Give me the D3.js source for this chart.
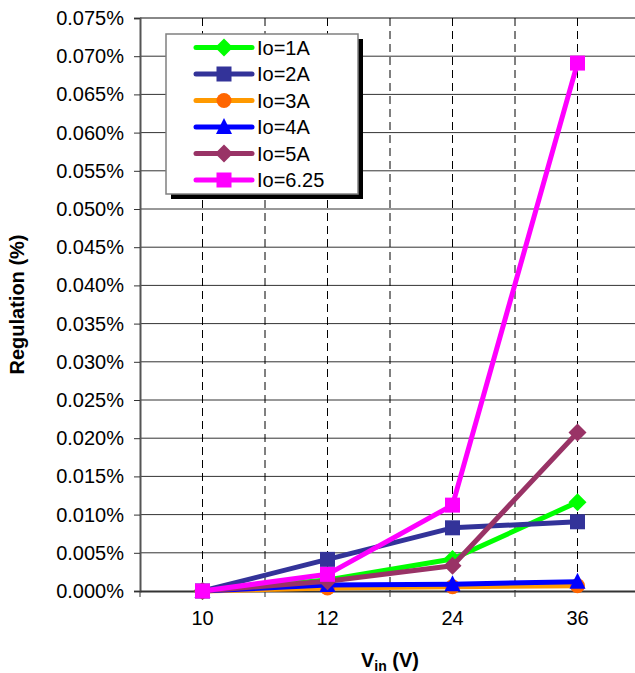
<!DOCTYPE html>
<html><head><meta charset="utf-8">
<script src="https://cdn.jsdelivr.net/npm/d3@7"></script>
<style>body{margin:0;background:#fff}</style>
</head><body>
<svg id="c" width="635" height="673"></svg>
<script>
const categories = ["10", "12", "24", "36"];
const yTicks = [0, 0.005, 0.01, 0.015, 0.02, 0.025, 0.03, 0.035, 0.04, 0.045, 0.05, 0.055, 0.06, 0.065, 0.07, 0.075];
const seriesNames = ["Io=1A", "Io=2A", "Io=3A", "Io=4A", "Io=5A", "Io=6.25"];
const io1 = [0, 0.00144, 0.00418, 0.01163];
const io2 = [0, 0.00414, 0.00827, 0.00906];
const io3 = [0, 0.0004, 0.00056, 0.00069];
const io4 = [0, 0.00078, 0.00088, 0.00122];
const io5 = [0, 0.00127, 0.0033, 0.02074];
const io625 = [0, 0.00218, 0.01124, 0.0691];

const styles = [
  {line:"#00FF00", fill:"#00FF00", shape:"diamond"},
  {line:"#333399", fill:"#333399", shape:"square"},
  {line:"#FF9900", fill:"#FF6600", shape:"circle"},
  {line:"#0000FF", fill:"#0000FF", shape:"triangle"},
  {line:"#993366", fill:"#993366", shape:"diamond"},
  {line:"#FF00FF", fill:"#FF00FF", shape:"square"}
];
const seriesData = [io1, io2, io3, io4, io5, io625];

const svg = d3.select("#c");
const L = 140, R = 640, T = 18, B = 591;
const x = d3.scaleBand().domain(categories).range([L, R]);
const y = d3.scaleLinear().domain([0, 0.075]).range([B, T]);
const font = "Liberation Sans, Arial, sans-serif";

// horizontal gridlines
svg.append("g").selectAll("line").data(yTicks.slice(1)).join("line")
  .attr("x1", L).attr("x2", R).attr("y1", d => y(d)).attr("y2", d => y(d))
  .attr("stroke", d => d === 0.075 ? "#888" : "#333").attr("stroke-width", d => d === 0.075 ? 2 : 1);

// vertical dashed gridlines at centers and boundaries
const vLines = [];
categories.forEach((c, i) => { vLines.push(x(c) + x.bandwidth() / 2); if (i > 0) vLines.push(x(c)); });
svg.append("g").selectAll("line").data(vLines).join("line")
  .attr("x1", d => d).attr("x2", d => d).attr("y1", T).attr("y2", B)
  .attr("stroke", "#000").attr("stroke-width", 1).attr("stroke-dasharray", "8,5");

// y axis
const yAxis = d3.axisLeft(y).tickValues(yTicks).tickSize(6).tickPadding(10)
  .tickFormat(d => d3.format(".3f")(d) + "%");
const gy = svg.append("g").attr("transform", `translate(${L},0)`).call(yAxis);
gy.select(".domain").attr("stroke", "#555").attr("stroke-width", 2);
gy.selectAll(".tick line").attr("stroke", "#333");
gy.selectAll("text").attr("font-family", font).attr("font-size", 20).attr("fill", "#000");

// x axis
const gx = svg.append("g").attr("transform", `translate(0,${B})`).call(d3.axisBottom(x).tickSize(0).tickPadding(20));
gx.select(".domain").attr("stroke", "#333").attr("stroke-width", 2);
gx.selectAll("text").attr("font-family", font).attr("font-size", 20).attr("fill", "#000");
const bounds = categories.map(c => x(c));
svg.append("g").selectAll("line").data(bounds).join("line")
  .attr("x1", d => d).attr("x2", d => d).attr("y1", B).attr("y2", B + 6)
  .attr("stroke", "#333").attr("stroke-width", 1);

// axis titles
svg.append("text").attr("transform", `translate(24,${(T + B) / 2}) rotate(-90)`)
  .attr("text-anchor", "middle").attr("font-family", font).attr("font-weight", "bold")
  .attr("font-size", 20).text("Regulation (%)");
const xt = svg.append("text").attr("x", 390).attr("y", 667).attr("text-anchor", "middle")
  .attr("font-family", font).attr("font-weight", "bold").attr("font-size", 20);
xt.append("tspan").text("V");
xt.append("tspan").attr("font-size", 14).attr("dy", 4).text("in");
xt.append("tspan").attr("dy", -4).text(" (V)");

function marker(g, shape, cx, cy, fill) {
  if (shape === "square") {
    g.append("rect").attr("x", cx - 7.5).attr("y", cy - 7.5).attr("width", 15).attr("height", 15).attr("fill", fill);
  } else if (shape === "diamond") {
    g.append("path").attr("d", `M${cx},${cy - 9}L${cx + 9},${cy}L${cx},${cy + 9}L${cx - 9},${cy}Z`).attr("fill", fill);
  } else if (shape === "circle") {
    g.append("circle").attr("cx", cx).attr("cy", cy).attr("r", 7.5).attr("fill", fill);
  } else if (shape === "triangle") {
    g.append("path").attr("d", `M${cx},${cy - 9}L${cx + 8},${cy + 7}L${cx - 8},${cy + 7}Z`).attr("fill", fill);
  }
}

const line = d3.line().x((d, i) => x(categories[i]) + x.bandwidth() / 2).y(d => y(d));
seriesData.forEach((s, k) => {
  const g = svg.append("g");
  g.append("path").attr("d", line(s)).attr("fill", "none").attr("stroke", styles[k].line)
    .attr("stroke-width", 5).attr("stroke-linejoin", "round");
  s.forEach((v, i) => marker(g, styles[k].shape, x(categories[i]) + x.bandwidth() / 2, y(v), styles[k].fill));
});

// legend
const lx = 166, ly = 34, lw = 192, lh = 160;
svg.append("rect").attr("x", lx + 5).attr("y", ly + 5).attr("width", lw).attr("height", lh).attr("fill", "#000");
svg.append("rect").attr("x", lx).attr("y", ly).attr("width", lw).attr("height", lh)
  .attr("fill", "#fff").attr("stroke", "#808080").attr("stroke-width", 1.5);
seriesNames.forEach((n, k) => {
  const cy = 47.5 + k * 26.5;
  const g = svg.append("g");
  g.append("line").attr("x1", 196).attr("x2", 252).attr("y1", cy).attr("y2", cy)
    .attr("stroke", styles[k].line).attr("stroke-width", 5).attr("stroke-linecap", "round");
  marker(g, styles[k].shape, 224, cy, styles[k].fill);
  g.append("text").attr("x", 257).attr("y", cy + 7).attr("font-family", font)
    .attr("font-size", 20).text(n);
});
</script>
</body></html>
